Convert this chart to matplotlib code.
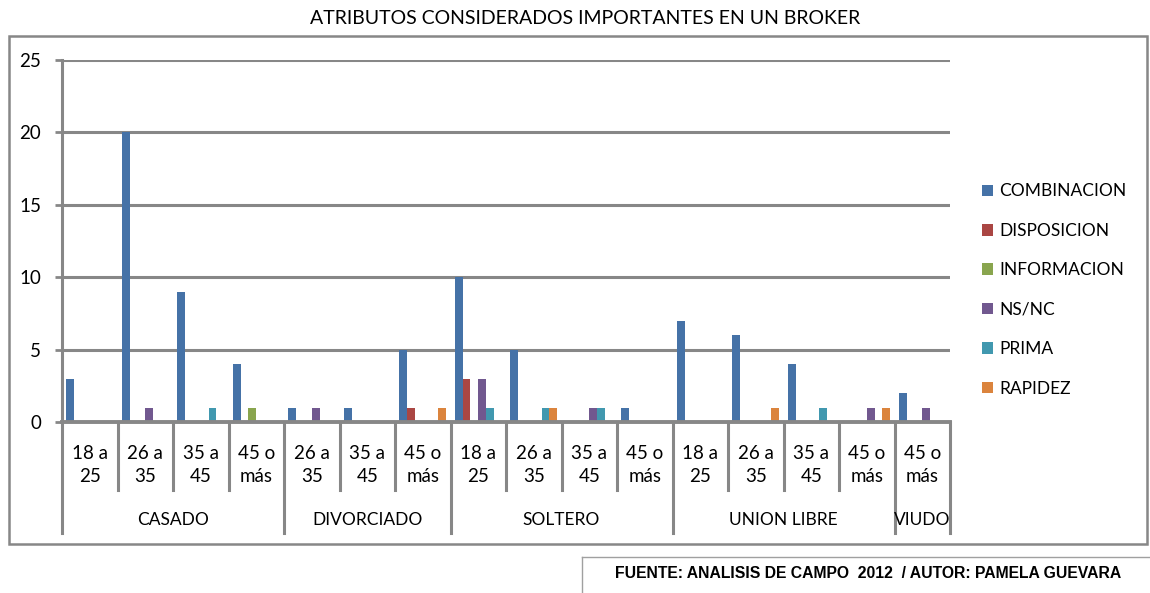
import numpy as np
import matplotlib
matplotlib.use("Agg")
import matplotlib.pyplot as plt
from matplotlib.patches import Rectangle

plt.rcParams['font.family'] = ['Lato', 'DejaVu Sans']

# Data
groups = ["CASADO", "DIVORCIADO", "SOLTERO", "UNION LIBRE", "VIUDO"]
group_sizes = [4, 3, 4, 4, 1]
ages = ["18 a\n25", "26 a\n35", "35 a\n45", "45 o\nmás",
        "26 a\n35", "35 a\n45", "45 o\nmás",
        "18 a\n25", "26 a\n35", "35 a\n45", "45 o\nmás",
        "18 a\n25", "26 a\n35", "35 a\n45", "45 o\nmás",
        "45 o\nmás"]
series = ["COMBINACION", "DISPOSICION", "INFORMACION", "NS/NC", "PRIMA", "RAPIDEZ"]
combinacion = [3, 20, 9, 4, 1, 1, 5, 10, 5, 0, 1, 7, 6, 4, 0, 2]
disposicion = [0, 0, 0, 0, 0, 0, 1, 3, 0, 0, 0, 0, 0, 0, 0, 0]
informacion = [0, 0, 0, 1, 0, 0, 0, 0, 0, 0, 0, 0, 0, 0, 0, 0]
ns_nc       = [0, 1, 0, 0, 1, 0, 0, 3, 0, 1, 0, 0, 0, 0, 1, 1]
prima       = [0, 0, 1, 0, 0, 0, 0, 1, 1, 1, 0, 0, 0, 1, 0, 0]
rapidez     = [0, 0, 0, 0, 0, 0, 1, 0, 1, 0, 0, 0, 1, 0, 1, 0]
values = [combinacion, disposicion, informacion, ns_nc, prima, rapidez]
colors = ["#4572A7", "#AA4643", "#89A54E", "#71588F", "#4198AF", "#DB843D"]

W, H = 1150, 593
fig = plt.figure(figsize=(W / 100, H / 100), dpi=100)
grey = "#878787"

# outer chart border
fig.patches.append(Rectangle((9 / W, 1 - 544 / H), 1138 / W, 508 / H, transform=fig.transFigure,
                             fill=False, edgecolor=grey, lw=1.8))
# source box (left and top edges only)
fig.add_artist(plt.Line2D([582 / W, 582 / W], [0, 1 - 557 / H], color="#a0a0a0", lw=1))
fig.add_artist(plt.Line2D([582 / W, 1], [1 - 557 / H, 1 - 557 / H], color="#a0a0a0", lw=1))
fig.text(868 / W, 1 - 573 / H, "FUENTE: ANALISIS DE CAMPO  2012  / AUTOR: PAMELA GUEVARA",
         family="Liberation Sans", weight="bold", fontsize=11.3, ha="center", va="center")

fig.text(585 / W, 1 - 18 / H, "ATRIBUTOS CONSIDERADOS IMPORTANTES EN UN BROKER",
         fontsize=14, ha="center", va="center")

x0, x1, y0, y1 = 62, 950, 60, 422
ax = fig.add_axes([x0 / W, 1 - y1 / H, (x1 - x0) / W, (y1 - y0) / H])
n = len(ages)
x = np.arange(n)
bw = 0.14
start = -0.5 + (1 - bw * len(series)) / 2 + bw / 2
for i, (name, vals) in enumerate(zip(series, values)):
    ax.bar(x + start + i * bw, vals, bw, color=colors[i], label=name, lw=0, zorder=3)

ax.set_xlim(-0.5, n - 0.5)
ax.set_ylim(0, 25)
ax.set_yticks(range(0, 26, 5))
ax.grid(axis="y", color=grey, lw=2.2, zorder=0)
for s in ["top", "right", "bottom"]:
    ax.spines[s].set_visible(False)
ax.spines["left"].set_color(grey)
ax.spines["left"].set_linewidth(2.2)
ax.axhline(0, color=grey, lw=2.8, zorder=4, clip_on=False)
ax.tick_params(axis="y", length=5, width=2, color=grey, labelsize=13.5, pad=10)
ax.set_xticks([])

# multi-level category axis
tr = ax.get_xaxis_transform()
ph = y1 - y0
inner_bot = -(490 - y1) / ph
outer_bot = -(533 - y1) / ph
bounds = np.cumsum([0] + group_sizes) - 0.5
for b in np.arange(n + 1) - 0.5:
    bot = outer_bot if b in bounds else inner_bot
    ax.plot([b, b], [0, bot], transform=tr, color=grey, lw=2.2, clip_on=False)
for xi, lab in zip(x, ages):
    ax.text(xi, -(465 - y1) / ph, lab, transform=tr, ha="center", va="center",
            fontsize=13.5, linespacing=1.4)
for g, a, b in zip(groups, bounds[:-1], bounds[1:]):
    ax.text((a + b) / 2, -(520 - y1) / ph, g, transform=tr, ha="center", va="center",
            fontsize=12.5)

fig.legend(loc="center left", bbox_to_anchor=(966 / W, 1 - 290 / H), frameon=False,
           fontsize=12.5, handlelength=0.65, handleheight=0.65, handletextpad=0.35,
           labelspacing=1.35)

fig.savefig("out.png", dpi=100)
